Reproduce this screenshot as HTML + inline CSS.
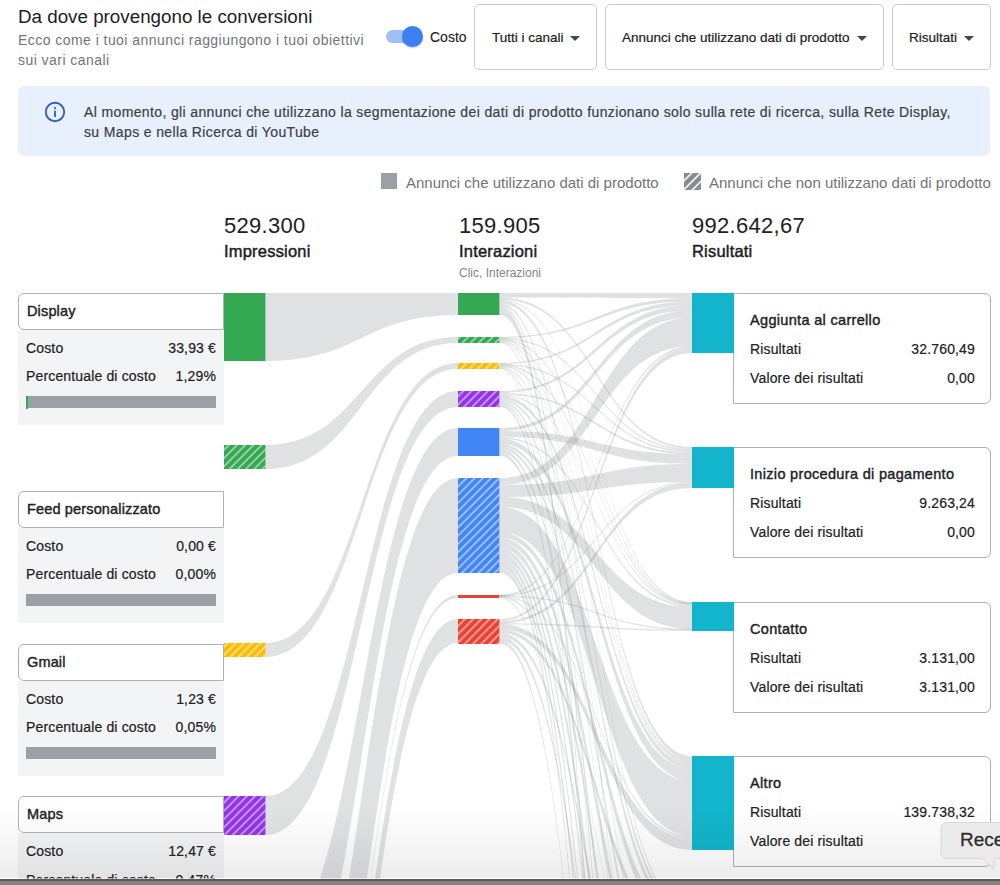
<!DOCTYPE html>
<html><head><meta charset="utf-8">
<style>
*{box-sizing:border-box;margin:0;padding:0}
html,body{width:1000px;height:885px;overflow:hidden;background:#fff;font-family:"Liberation Sans",sans-serif;color:#202124;position:relative}
.abs{position:absolute;white-space:nowrap}
#title{left:18px;top:6px;font-size:18.8px;color:#202124}
.sub{left:18px;font-size:14px;letter-spacing:0.45px;color:#70757a}
.toggle-track{position:absolute;left:386px;top:30px;width:26px;height:13px;border-radius:7px;background:#9fbff5}
.toggle-knob{position:absolute;left:402px;top:26px;width:21px;height:21px;border-radius:50%;background:#3b7ff0;box-shadow:0 1px 2px rgba(0,0,0,.25)}
.btn{position:absolute;top:4px;height:66px;border:1px solid #c8cacd;border-radius:5px;background:#fff;font-size:13.5px;color:#202124}
.btn span{position:absolute;top:25px;-webkit-text-stroke:0.2px #202124}
.caret{position:absolute;top:31px;width:0;height:0;border-left:5px solid transparent;border-right:5px solid transparent;border-top:5px solid #44474a}
#banner{position:absolute;left:18px;top:86px;width:972px;height:70px;background:#e8f0fe;border-radius:6px}
.bt{left:84px;font-size:14px;letter-spacing:0.37px;color:#3c4043;-webkit-text-stroke:0.2px #3c4043}
.legend{font-size:15px;color:#70757a}
.num{font-size:22px;color:#202124;letter-spacing:0.3px}
.lbl{font-size:16.5px;font-weight:normal;color:#202124;letter-spacing:0.2px;-webkit-text-stroke:0.45px #202124}
.small{font-size:12px;color:#80868b}
.lcard{position:absolute;left:18px;width:206px;height:132px}
.lhead{position:absolute;left:0;top:0;width:206px;height:37px;border:1px solid #aeb2b6;border-radius:6px 0 0 6px;background:#fff}
.lhead span{position:absolute;left:8px;top:9px;font-size:14.5px;font-weight:normal;letter-spacing:0.15px;-webkit-text-stroke:0.4px #202124;color:#202124}
.lbody{position:absolute;left:0;top:37px;width:206px;height:95px;background:#f3f4f5}
.row{position:absolute;left:8px;right:8px;font-size:14px;color:#202124;white-space:nowrap;letter-spacing:0.15px;-webkit-text-stroke:0.2px #202124}
.row b{font-weight:normal;position:absolute;right:0;top:0}
.bar{position:absolute;left:8px;width:190px;height:12px;background:#9aa0a6}
.rcard{position:absolute;left:733px;width:258px;height:111px;border:1px solid #aeb2b6;border-radius:0 6px 6px 0;background:#fff}
.rcard .t{position:absolute;left:16px;top:18px;font-size:14.5px;font-weight:normal;letter-spacing:0.32px;-webkit-text-stroke:0.4px #202124;color:#202124}
.rcard .row{left:16px;right:15px}
#shade{position:absolute;left:0;top:808px;width:1000px;height:70px;background:linear-gradient(to bottom,rgba(0,0,0,0),rgba(0,0,0,0.075))}
#bottombar{position:absolute;left:0;top:878px;width:1000px;height:7px;background:linear-gradient(to bottom,rgba(255,255,255,0.45) 0,rgba(255,255,255,0.45) 1px,#5f5757 1px,#5f5757 3px,#8b8081 3px)}
</style></head><body>
<div id="title" class="abs">Da dove provengono le conversioni</div>
<div class="abs sub" style="top:32px">Ecco come i tuoi annunci raggiungono i tuoi obiettivi</div>
<div class="abs sub" style="top:52px">sui vari canali</div>
<div class="toggle-track"></div><div class="toggle-knob"></div>
<div class="abs" style="left:430px;top:29px;font-size:14px;color:#202124;-webkit-text-stroke:0.1px #202124">Costo</div>
<div class="btn" style="left:474px;width:123px"><span style="left:17px">Tutti i canali</span><i class="caret" style="left:95px"></i></div>
<div class="btn" style="left:605px;width:279px"><span style="left:16px">Annunci che utilizzano dati di prodotto</span><i class="caret" style="left:251px"></i></div>
<div class="btn" style="left:892px;width:99px"><span style="left:16px">Risultati</span><i class="caret" style="left:71px"></i></div>
<div id="banner"></div>
<svg class="abs" style="left:44px;top:101px" width="22" height="22" viewBox="0 0 22 22"><circle cx="11" cy="11" r="9.2" fill="none" stroke="#2f63b0" stroke-width="1.9"/><rect x="10.1" y="9.6" width="1.8" height="6.4" fill="#2f63b0"/><rect x="10.1" y="6.2" width="1.8" height="1.9" fill="#2f63b0"/></svg>
<div class="abs bt" style="top:104px">Al momento, gli annunci che utilizzano la segmentazione dei dati di prodotto funzionano solo sulla rete di ricerca, sulla Rete Display,</div>
<div class="abs bt" style="top:124px">su Maps e nella Ricerca di YouTube</div>

<div class="abs" style="left:381px;top:173px;width:16px;height:16px;background:#9aa0a6"></div>
<div class="abs legend" style="left:406px;top:174px">Annunci che utilizzano dati di prodotto</div>
<svg class="abs" style="left:684px;top:173px" width="17" height="17"><rect width="17" height="17" fill="#868b90"/><rect width="17" height="17" fill="url(#hatch2)"/></svg>
<div class="abs legend" style="left:709px;top:174px">Annunci che non utilizzano dati di prodotto</div>

<div class="abs num" style="left:224px;top:213px">529.300</div>
<div class="abs lbl" style="left:224px;top:242px">Impressioni</div>
<div class="abs num" style="left:459px;top:213px">159.905</div>
<div class="abs lbl" style="left:459px;top:242px">Interazioni</div>
<div class="abs small" style="left:459px;top:266px">Clic, Interazioni</div>
<div class="abs num" style="left:692px;top:213px">992.642,67</div>
<div class="abs lbl" style="left:692px;top:242px">Risultati</div>

<svg class="abs" style="left:0;top:0" width="1000" height="885">
<defs>
<pattern id="hatch" width="5.8" height="5.8" patternUnits="userSpaceOnUse" patternTransform="rotate(45)"><rect width="1.9" height="5.8" fill="rgba(255,255,255,0.48)"/></pattern>
<pattern id="hatch2" width="6.2" height="6.2" patternUnits="userSpaceOnUse" patternTransform="translate(684,173) rotate(45)"><rect width="1.8" height="6.2" fill="rgba(255,255,255,0.85)"/></pattern>
</defs>
<g fill="#80868b" fill-opacity="0.25"><path d="M265.5,293C361.8,293 361.8,293 458,293L458,315C361.8,315 361.8,361 265.5,361Z"/><path d="M265.5,445C361.8,445 361.8,337 458,337L458,343C361.8,343 361.8,469 265.5,469Z"/><path d="M265.5,643C361.8,643 361.8,363 458,363L458,369C361.8,369 361.8,657 265.5,657Z"/><path d="M265.5,796C361.8,796 361.8,391 458,391L458,407C361.8,407 361.8,835 265.5,835Z"/><path d="M265.5,952C361.8,952 361.8,428 458,428L458,456C361.8,456 361.8,1055 265.5,1055Z"/><path d="M265.5,1113C361.8,1113 361.8,478 458,478L458,573C361.8,573 361.8,1259 265.5,1259Z"/><path d="M265.5,1284C361.8,1284 361.8,595 458,595L458,598C361.8,598 361.8,1287 265.5,1287Z"/><path d="M265.5,1330C361.8,1330 361.8,619 458,619L458,643C361.8,643 361.8,1380 265.5,1380Z"/><path d="M500,293C596,293 596,293 692,293L692,298.1C596,298.1 596,297.5 500,297.5Z"/><path d="M500,297.5C596,297.5 596,447 692,447L692,449C596,449 596,299.5 500,299.5Z"/><path d="M500,299.4C596,299.4 596,601.9 692,601.9L692,603.1C596,603.1 596,300.6 500,300.6Z"/><path d="M500,300.5C596,300.5 596,756 692,756L692,760C596,760 596,303.5 500,303.5Z"/><path d="M500,303.5C596,303.5 596,1160 692,1160L692,1165.7C596,1165.7 596,305.5 500,305.5Z"/><path d="M500,305.5C596,305.5 596,1535 692,1535L692,1541.6C596,1541.6 596,307.5 500,307.5Z"/><path d="M500,307.5C596,307.5 596,1785 692,1785L692,1802.8C596,1802.8 596,315 500,315Z"/><path d="M500,336.9C596,336.9 596,298.1 692,298.1L692,301.6C596,301.6 596,338.1 500,338.1Z"/><path d="M500,337.7C596,337.7 596,449 692,449L692,450.5C596,450.5 596,339 500,339Z"/><path d="M500,338.3C596,338.3 596,602.6 692,602.6L692,603.9C596,603.9 596,339.6 500,339.6Z"/><path d="M500,339.1C596,339.1 596,760 692,760L692,762C596,762 596,340.3 500,340.3Z"/><path d="M500,340.1C596,340.1 596,910 692,910L692,912.6C596,912.6 596,341.3 500,341.3Z"/><path d="M500,341C596,341 596,1165.7 692,1165.7L692,1168C596,1168 596,342.2 500,342.2Z"/><path d="M500,341.9C596,341.9 596,1541.6 692,1541.6L692,1544.9C596,1544.9 596,343.1 500,343.1Z"/><path d="M500,362.9C596,362.9 596,301.6 692,301.6L692,305.2C596,305.2 596,364.1 500,364.1Z"/><path d="M500,363.7C596,363.7 596,450.5 692,450.5L692,452C596,452 596,365 500,365Z"/><path d="M500,364.3C596,364.3 596,603.1 692,603.1L692,604.4C596,604.4 596,365.6 500,365.6Z"/><path d="M500,365.1C596,365.1 596,762 692,762L692,764C596,764 596,366.3 500,366.3Z"/><path d="M500,366.1C596,366.1 596,1035 692,1035L692,1038.9C596,1038.9 596,367.3 500,367.3Z"/><path d="M500,367C596,367 596,1410 692,1410L692,1412.8C596,1412.8 596,368.2 500,368.2Z"/><path d="M500,367.9C596,367.9 596,1802.8 692,1802.8L692,1805.1C596,1805.1 596,369.1 500,369.1Z"/><path d="M500,391C596,391 596,305.2 692,305.2L692,310.3C596,310.3 596,393 500,393Z"/><path d="M500,393C596,393 596,452 692,452L692,454C596,454 596,394.5 500,394.5Z"/><path d="M500,394.4C596,394.4 596,603.9 692,603.9L692,605.1C596,605.1 596,395.6 500,395.6Z"/><path d="M500,395.5C596,395.5 596,764 692,764L692,769C596,769 596,398.5 500,398.5Z"/><path d="M500,398.5C596,398.5 596,912.6 692,912.6L692,917.9C596,917.9 596,400.5 500,400.5Z"/><path d="M500,400.5C596,400.5 596,1168 692,1168L692,1173.8C596,1173.8 596,402.5 500,402.5Z"/><path d="M500,402.5C596,402.5 596,1412.8 692,1412.8L692,1419.8C596,1419.8 596,404.5 500,404.5Z"/><path d="M500,404.5C596,404.5 596,1660 692,1660L692,1673.6C596,1673.6 596,407 500,407Z"/><path d="M500,428C596,428 596,310.3 692,310.3L692,317.4C596,317.4 596,431 500,431Z"/><path d="M500,431C596,431 596,454 692,454L692,464C596,464 596,437 500,437Z"/><path d="M500,437C596,437 596,605 692,605L692,607C596,607 596,438.5 500,438.5Z"/><path d="M500,438.5C596,438.5 596,769 692,769L692,781C596,781 596,443.5 500,443.5Z"/><path d="M500,443.5C596,443.5 596,917.9 692,917.9L692,925.8C596,925.8 596,446.5 500,446.5Z"/><path d="M500,446.5C596,446.5 596,1038.9 692,1038.9L692,1050.8C596,1050.8 596,449.5 500,449.5Z"/><path d="M500,449.5C596,449.5 596,1285 692,1285L692,1299.3C596,1299.3 596,452.5 500,452.5Z"/><path d="M500,452.5C596,452.5 596,1544.9 692,1544.9L692,1556.5C596,1556.5 596,456 500,456Z"/><path d="M500,478C596,478 596,317.4 692,317.4L692,345.9C596,345.9 596,485 500,485Z"/><path d="M500,485C596,485 596,464 692,464L692,482C596,482 596,497 500,497Z"/><path d="M500,497C596,497 596,607 692,607L692,629C596,629 596,507 500,507Z"/><path d="M500,507C596,507 596,781 692,781L692,836C596,836 596,532 500,532Z"/><path d="M500,532C596,532 596,925.8 692,925.8L692,940.1C596,940.1 596,537.4 500,537.4Z"/><path d="M500,537.4C596,537.4 596,1050.8 692,1050.8L692,1072C596,1072 596,542.8 500,542.8Z"/><path d="M500,542.8C596,542.8 596,1173.8 692,1173.8L692,1189.2C596,1189.2 596,548.2 500,548.2Z"/><path d="M500,548.2C596,548.2 596,1299.3 692,1299.3L692,1325C596,1325 596,553.6 500,553.6Z"/><path d="M500,553.6C596,553.6 596,1419.8 692,1419.8L692,1436.8C596,1436.8 596,558.4 500,558.4Z"/><path d="M500,558.4C596,558.4 596,1556.5 692,1556.5L692,1572.5C596,1572.5 596,563.3 500,563.3Z"/><path d="M500,563.3C596,563.3 596,1673.6 692,1673.6L692,1700C596,1700 596,568.1 500,568.1Z"/><path d="M500,568.1C596,568.1 596,1805.1 692,1805.1L692,1816.6C596,1816.6 596,573 500,573Z"/><path d="M500,594.6C596,594.6 596,345.9 692,345.9L692,347.9C596,347.9 596,595.9 500,595.9Z"/><path d="M500,594.9C596,594.9 596,481.9 692,481.9L692,483.1C596,483.1 596,596.2 500,596.2Z"/><path d="M500,595.3C596,595.3 596,628.6 692,628.6L692,629.9C596,629.9 596,596.6 500,596.6Z"/><path d="M500,595.6C596,595.6 596,836 692,836L692,838C596,838 596,596.9 500,596.9Z"/><path d="M500,596.2C596,596.2 596,1072 692,1072L692,1075C596,1075 596,597.5 500,597.5Z"/><path d="M500,597C596,597 596,1572.5 692,1572.5L692,1575C596,1575 596,598.3 500,598.3Z"/><path d="M500,619C596,619 596,347.9 692,347.9L692,353C596,353 596,621 500,621Z"/><path d="M500,621C596,621 596,483 692,483L692,488C596,488 596,623.5 500,623.5Z"/><path d="M500,623.2C596,623.2 596,629.5 692,629.5L692,631C596,631 596,624.5 500,624.5Z"/><path d="M500,624.2C596,624.2 596,838 692,838L692,850C596,850 596,629.2 500,629.2Z"/><path d="M500,629.2C596,629.2 596,940.1 692,940.1L692,950C596,950 596,633 500,633Z"/><path d="M500,633C596,633 596,1189.2 692,1189.2L692,1200C596,1200 596,636.7 500,636.7Z"/><path d="M500,636.7C596,636.7 596,1436.8 692,1436.8L692,1450C596,1450 596,640.5 500,640.5Z"/><path d="M500,640.5C596,640.5 596,1816.6 692,1816.6L692,1825C596,1825 596,644 500,644Z"/></g>
</svg>
<div class="lcard" style="top:292.5px">
<div class="lhead"><span>Display</span></div>
<div class="lbody"><div class="row" style="top:10px">Costo<b>33,93 €</b></div>
<div class="row" style="top:38.5px">Percentuale di costo<b>1,29%</b></div>
<div class="bar" style="top:66px"><i style="position:absolute;left:0;top:0;width:2px;height:13px;background:#34a853"></i></div></div></div><div class="lcard" style="top:490.5px">
<div class="lhead"><span>Feed personalizzato</span></div>
<div class="lbody"><div class="row" style="top:10px">Costo<b>0,00 €</b></div>
<div class="row" style="top:38.5px">Percentuale di costo<b>0,00%</b></div>
<div class="bar" style="top:66px"></div></div></div><div class="lcard" style="top:643.5px">
<div class="lhead"><span>Gmail</span></div>
<div class="lbody"><div class="row" style="top:10px">Costo<b>1,23 €</b></div>
<div class="row" style="top:38.5px">Percentuale di costo<b>0,05%</b></div>
<div class="bar" style="top:66px"></div></div></div><div class="lcard" style="top:796px">
<div class="lhead"><span>Maps</span></div>
<div class="lbody"><div class="row" style="top:10px">Costo<b>12,47 €</b></div>
<div class="row" style="top:38.5px">Percentuale di costo<b>0,47%</b></div>
<div class="bar" style="top:66px"></div></div></div><div class="rcard" style="top:293px"><div class="t">Aggiunta al carrello</div>
<div class="row" style="top:47px">Risultati<b>32.760,49</b></div>
<div class="row" style="top:76px">Valore dei risultati<b>0,00</b></div></div><div class="rcard" style="top:447px"><div class="t">Inizio procedura di pagamento</div>
<div class="row" style="top:47px">Risultati<b>9.263,24</b></div>
<div class="row" style="top:76px">Valore dei risultati<b>0,00</b></div></div><div class="rcard" style="top:602px"><div class="t">Contatto</div>
<div class="row" style="top:47px">Risultati<b>3.131,00</b></div>
<div class="row" style="top:76px">Valore dei risultati<b>3.131,00</b></div></div><div class="rcard" style="top:756px"><div class="t">Altro</div>
<div class="row" style="top:47px">Risultati<b>139.738,32</b></div>
<div class="row" style="top:76px">Valore dei risultati<b></b></div></div>
<svg class="abs" style="left:0;top:0" width="1000" height="885"><rect x="224" y="293" width="41.5" height="68" fill="#34a853"/><rect x="224" y="445" width="41.5" height="24" fill="#34a853"/><rect x="224" y="445" width="41.5" height="24" fill="url(#hatch)"/><rect x="224" y="643" width="41.5" height="14" fill="#fbbc04"/><rect x="224" y="643" width="41.5" height="14" fill="url(#hatch)"/><rect x="224" y="796" width="41.5" height="39" fill="#9334e6"/><rect x="224" y="796" width="41.5" height="39" fill="url(#hatch)"/><rect x="458" y="293" width="41.5" height="22" fill="#34a853"/><rect x="458" y="337" width="41.5" height="6" fill="#34a853"/><rect x="458" y="337" width="41.5" height="6" fill="url(#hatch)"/><rect x="458" y="363" width="41.5" height="6" fill="#fbbc04"/><rect x="458" y="363" width="41.5" height="6" fill="url(#hatch)"/><rect x="458" y="391" width="41.5" height="16" fill="#9334e6"/><rect x="458" y="391" width="41.5" height="16" fill="url(#hatch)"/><rect x="458" y="428" width="41.5" height="28" fill="#4285f4"/><rect x="458" y="478" width="41.5" height="95" fill="#4285f4"/><rect x="458" y="478" width="41.5" height="95" fill="url(#hatch)"/><rect x="458" y="595" width="41.5" height="3" fill="#ea4335"/><rect x="458" y="619" width="41.5" height="25" fill="#ea4335"/><rect x="458" y="619" width="41.5" height="25" fill="url(#hatch)"/><rect x="692" y="293" width="42" height="60" fill="#12b5cb"/><rect x="692" y="447" width="42" height="41" fill="#12b5cb"/><rect x="692" y="602" width="42" height="29" fill="#12b5cb"/><rect x="692" y="756" width="42" height="94" fill="#12b5cb"/></svg>
<div id="shade"></div>
<svg class="abs" style="left:935px;top:815px" width="65" height="60"><path d="M13,7.5H70V43.5H60L58,54L48,43.5H13Q6,43.5 6,37.5V13.5Q6,7.5 13,7.5Z" fill="#edeaeb" stroke="#d9d6d7" stroke-width="1"/></svg>
<div class="abs" style="left:960px;top:829px;font-size:19px;color:#2e2e2e;-webkit-text-stroke:0.3px #2e2e2e">Rece</div>
<div id="bottombar"></div>
</body></html>
